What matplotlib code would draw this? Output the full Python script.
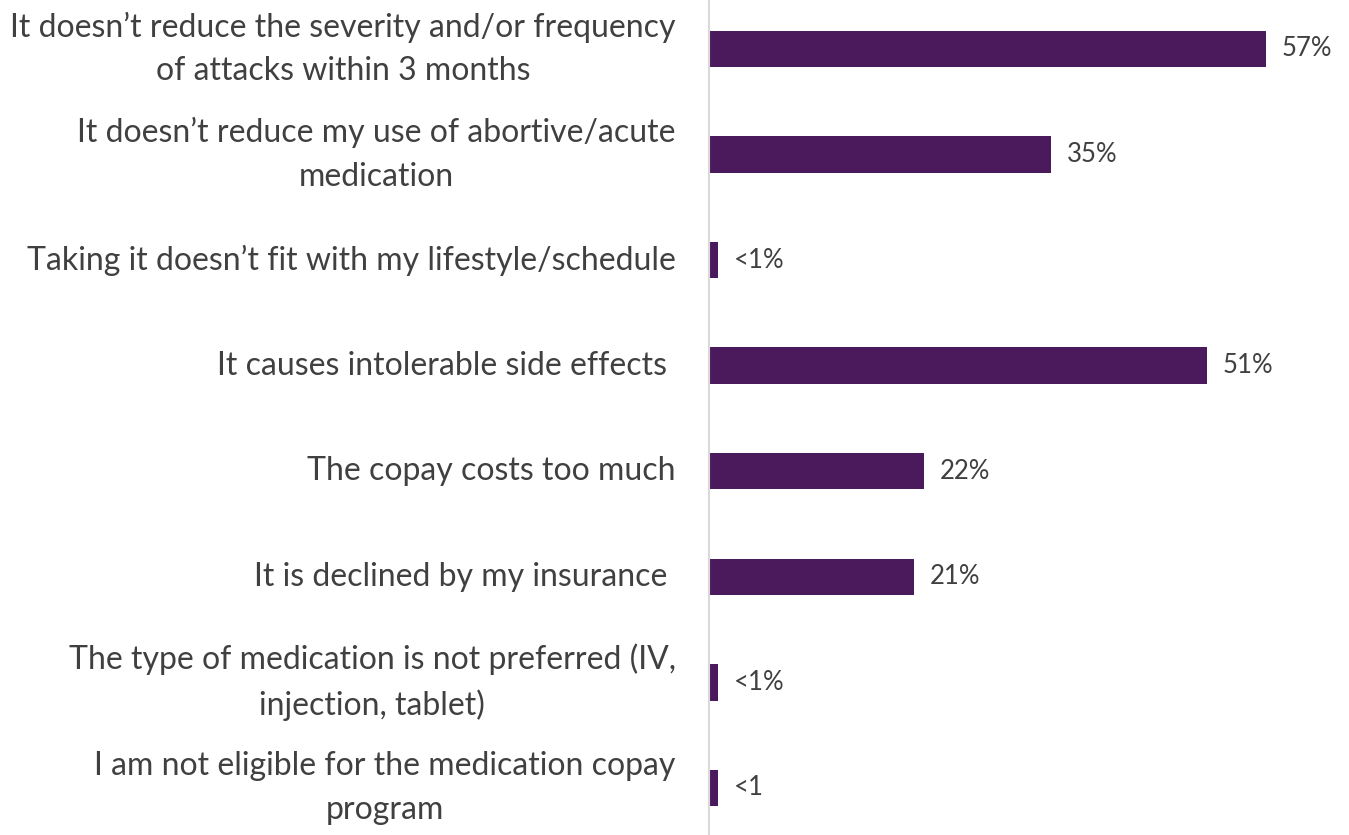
import matplotlib
matplotlib.use("Agg")
import matplotlib.pyplot as plt

categories = [
    "It doesn\u2019t reduce the severity and/or frequency\nof attacks within 3 months",
    "It doesn\u2019t reduce my use of abortive/acute\nmedication",
    "Taking it doesn\u2019t fit with my lifestyle/schedule",
    "It causes intolerable side effects ",
    "The copay costs too much",
    "It is declined by my insurance ",
    "The type of medication is not preferred (IV,\ninjection, tablet)",
    "I am not eligible for the medication copay\nprogram",
]
values = [57, 35, 0.9, 51, 22, 21, 0.9, 0.9]
value_labels = ["57%", "35%", "<1%", "51%", "22%", "21%", "<1%", "<1"]

BAR = "#4B1A5C"
TEXT = "#404040"

fig = plt.figure(figsize=(13.49, 8.35), dpi=100)
ax = fig.add_axes([709/1349, 0, 1 - 709/1349, 1])

y = list(range(len(categories)))
ax.barh(y, values, height=0.345, color=BAR)

sp = 105.57
ax.set_ylim((835 - 49) / sp, -49 / sp)
ax.set_xlim(0, 640 / 9.77)

for yi, v, lab in zip(y, values, value_labels):
    ax.text(v + 1.6, yi, lab, va="center", ha="left", fontsize=18.5,
            color=TEXT, family="Lato")

ax.set_yticks(y)
ax.set_yticklabels(categories, fontsize=23, color=TEXT, family="Lato")
for t in ax.get_yticklabels():
    t.set_multialignment("center")
    t.set_linespacing(1.57)
    t.set_verticalalignment("center")
ax.tick_params(axis="y", length=0, pad=24)
ax.set_xticks([])
for s in ["top", "right", "bottom"]:
    ax.spines[s].set_visible(False)
ax.spines["left"].set_color("#D9D9D9")
ax.spines["left"].set_linewidth(1.5)

fig.savefig("out.png", dpi=100)
